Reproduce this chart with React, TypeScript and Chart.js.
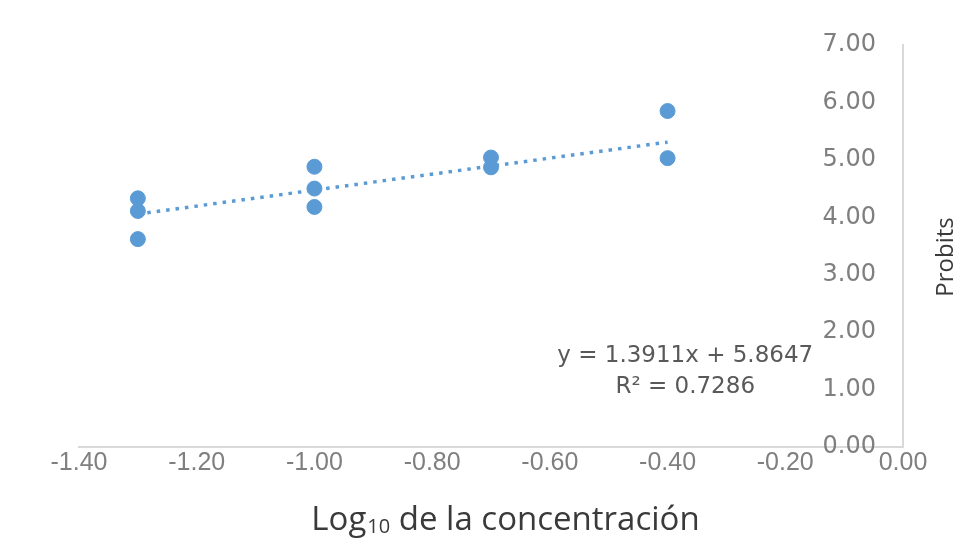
import { useEffect, useRef } from "react";
import { Chart, registerables } from "chart.js";

Chart.register(...registerables);

// Observed probits against log10 of concentration
const logConcentration = [-1.3, -1.3, -1.3, -1.0, -1.0, -1.0, -0.7, -0.7, -0.4, -0.4];
const probits = [4.33, 4.11, 3.62, 4.88, 4.5, 4.18, 5.04, 4.87, 5.85, 5.03];

// Axis ticks
const xTicks = [-1.4, -1.2, -1.0, -0.8, -0.6, -0.4, -0.2, 0.0];
const yTicks = [0, 1, 2, 3, 4, 5, 6, 7];

// Linear trend line fitted by the spreadsheet
const trendSlope = 1.3911;
const trendIntercept = 5.8647;
const rSquared = 0.7286;
const trendFrom = -1.3;
const trendTo = -0.4;

const xTitleMain = "Log";
const xTitleSub = "10";
const xTitleRest = " de la concentración";
const yTitle = "Probits";

const BLUE = "#5B9BD5";
const AXIS_GREY = "#d9d9d9";
const TICK_GREY = "#7f7f7f";
const TEXT_DARK = "#3a3a3a";

const trendPoints = [trendFrom, trendTo].map((x) => ({ x, y: trendSlope * x + trendIntercept }));

const textPlugin = {
  id: "chartTexts",
  afterDraw(chart: any) {
    const { ctx, chartArea, scales } = chart;
    ctx.save();

    // trend line equation and R²
    ctx.fillStyle = "#595959";
    ctx.font = "23px 'DejaVu Sans', sans-serif";
    ctx.textAlign = "center";
    ctx.textBaseline = "middle";
    const ex = scales.x.getPixelForValue(-0.37);
    ctx.fillText(`y = ${trendSlope}x + ${trendIntercept}`, ex, scales.y.getPixelForValue(1.58));
    ctx.fillText(`R² = ${rSquared.toFixed(4)}`, ex, scales.y.getPixelForValue(1.04));

    // x axis title with subscript
    ctx.fillStyle = TEXT_DARK;
    ctx.textAlign = "left";
    ctx.textBaseline = "alphabetic";
    const mainFont = "33px 'Open Sans', sans-serif";
    const subFont = "20px 'Open Sans', sans-serif";
    ctx.font = mainFont;
    const wMain = ctx.measureText(xTitleMain).width;
    const wRest = ctx.measureText(xTitleRest).width;
    ctx.font = subFont;
    const wSub = ctx.measureText(xTitleSub).width;
    const total = wMain + wSub + wRest;
    const cx = (chartArea.left + chartArea.right) / 2 + 14;
    const baseY = chartArea.bottom + 83;
    let tx = cx - total / 2;
    ctx.font = mainFont;
    ctx.fillText(xTitleMain, tx, baseY);
    tx += wMain + 1;
    ctx.font = subFont;
    ctx.fillText(xTitleSub, tx, baseY + 3);
    tx += wSub;
    ctx.font = mainFont;
    ctx.fillText(xTitleRest, tx, baseY);

    // y axis title on the right, reading upwards
    ctx.font = "24px 'Open Sans', sans-serif";
    ctx.textAlign = "center";
    ctx.textBaseline = "middle";
    ctx.translate(chartArea.right + 43, (chartArea.top + chartArea.bottom) / 2 + 11);
    ctx.rotate(-Math.PI / 2);
    ctx.fillText(yTitle, 0, 0);

    ctx.restore();
  },
};

export default function App() {
  const canvasRef = useRef<HTMLCanvasElement | null>(null);

  useEffect(() => {
    const canvas = canvasRef.current;
    if (!canvas) return;
    const chart = new Chart(canvas, {
      type: "scatter",
      data: {
        datasets: [
          {
            type: "scatter",
            data: logConcentration.map((x, i) => ({ x, y: probits[i] })),
            backgroundColor: BLUE,
            borderColor: BLUE,
            pointRadius: 7.5,
            pointHoverRadius: 7.5,
            order: 1,
          },
          {
            type: "line",
            data: trendPoints,
            borderColor: BLUE,
            borderWidth: 3.5,
            borderDash: [3.5, 6],
            borderCapStyle: "butt",
            pointRadius: 0,
            fill: false,
            showLine: true,
            order: 2,
          } as any,
        ],
      },
      options: {
        responsive: false,
        animation: false,
        events: [],
        layout: { padding: { left: 79, right: 56, top: 45, bottom: 0 } },
        plugins: {
          legend: { display: false },
          tooltip: { enabled: false },
        },
        scales: {
          x: {
            type: "linear",
            position: "bottom",
            min: -1.4,
            max: 0,
            afterBuildTicks: (s: any) => {
              s.ticks = xTicks.map((value) => ({ value }));
            },
            afterFit: (s: any) => {
              s.height = 106;
            },
            grid: { display: false, drawTicks: false },
            border: { display: true, color: AXIS_GREY, width: 2 },
            ticks: {
              padding: 1,
              color: TICK_GREY,
              font: { family: "'Liberation Sans', sans-serif", size: 25 },
              maxRotation: 0,
              autoSkip: false,
              callback: (v: any) => Number(v).toFixed(2),
            },
          },
          y: {
            type: "linear",
            position: "right",
            min: 0,
            max: 7,
            afterBuildTicks: (s: any) => {
              s.ticks = yTicks.map((value) => ({ value }));
            },
            afterFit: (s: any) => {
              s.width = 0;
            },
            grid: { display: false, drawTicks: false },
            border: { display: true, color: AXIS_GREY, width: 2 },
            ticks: {
              // mirrored labels sit inside the plot, to the left of the axis line
              mirror: true,
              padding: -27,
              color: TICK_GREY,
              font: { family: "'DejaVu Sans', sans-serif", size: 24 },
              autoSkip: false,
              callback: (v: any) => Number(v).toFixed(2),
            },
          },
        },
      },
      plugins: [textPlugin],
    });
    return () => chart.destroy();
  }, []);

  return (
    <div style={{ position: "fixed", left: 0, top: 0, width: 959, height: 553, background: "#ffffff" }}>
      <canvas ref={canvasRef} width={959} height={553} style={{ display: "block" }} />
    </div>
  );
}
